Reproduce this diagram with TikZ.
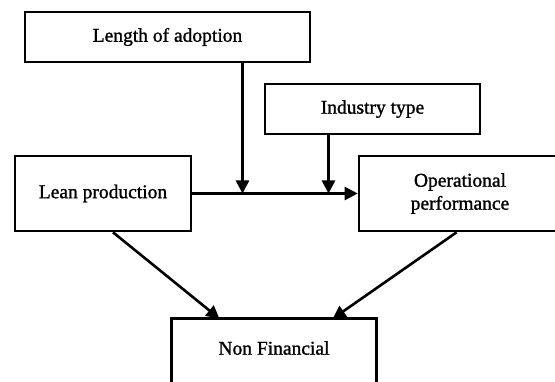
\documentclass[tikz,border=0pt]{standalone}
\usepackage{fontspec}
\setmainfont{Liberation Serif}[BoldFont={Liberation Serif},BoldFeatures={FakeBold=1.2}]
\usetikzlibrary{arrows.meta}
\begin{document}
\begin{tikzpicture}[x=1pt,y=-1pt,
  box/.style={draw=black,line width=2.6pt,rectangle,inner sep=0pt,align=center,
    font=\fontsize{19.5}{23}\selectfont\bfseries},
  conn/.style={line width=2.6pt,-{Triangle[length=13pt,width=13pt]}}]
\clip (0,0) rectangle (555,382);
\fill[white] (0,0) rectangle (555,382);
\node[box,minimum width=285pt,minimum height=50pt] (len) at (167.5,37) {Length of adoption};
\node[box,minimum width=215pt,minimum height=50pt] (ind) at (372.5,109) {Industry type};
\node[box,minimum width=176pt,minimum height=75pt] (lean) at (103,193.5) {Lean production};
\node[box,minimum width=202pt,minimum height=75pt] (op) at (460,193.5) {Operational\\performance};
\node[box,draw=none,minimum width=202pt,minimum height=56pt] (nf) at (274,348) {Non Financial};
\draw[line width=2.6pt] ([yshift=-30pt]nf.south west) -- (nf.north west) -- (nf.north east) -- ([yshift=-30pt]nf.south east);
\coordinate (m1) at (242.5,193.5);
\coordinate (m2) at (328.5,193.5);
\draw[conn] (lean.east) -- (op.west);
\draw[conn] (len.south -| m1) -- (m1);
\draw[conn] (ind.south -| m2) -- (m2);
\draw[conn] ([xshift=10pt]lean.south) -- ([xshift=-54.5pt]nf.north);
\draw[conn] ([xshift=-3.4pt]op.south) -- ([xshift=58.7pt]nf.north);
\end{tikzpicture}
\end{document}
